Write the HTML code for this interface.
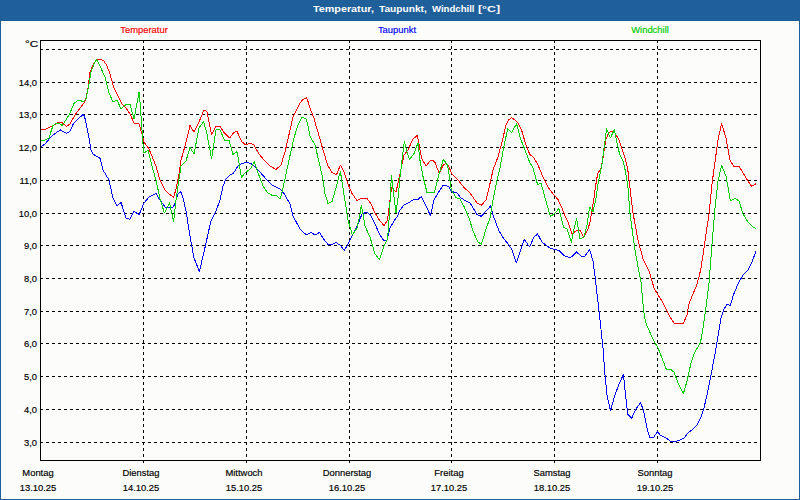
<!DOCTYPE html>
<html><head><meta charset="utf-8"><title>Temperatur, Taupunkt, Windchill</title>
<style>
html,body{margin:0;padding:0;}
body{width:800px;height:500px;overflow:hidden;background:#fcfdfb;font-family:"Liberation Sans",sans-serif;position:relative;}
#frame{position:absolute;left:0;top:0;width:798px;height:499px;border:1px solid #1f609a;border-top:none;background:#fcfdfb;}
#title{position:absolute;left:0;top:0;width:800px;height:21px;background:#1f609a;color:#fff;font-weight:bold;font-size:9.6px;line-height:18px;text-align:center;white-space:nowrap;}
.w{position:absolute;top:0;transform-origin:0 50%;}
.t{position:absolute;font-size:9.8px;line-height:12px;white-space:nowrap;color:#000;-webkit-text-stroke:0.18px currentColor;}
.c{transform:translateX(-50%) scaleX(.96);}
.r{text-align:right;transform-origin:100% 50%;transform:scaleX(.96);}
svg{position:absolute;left:0;top:0;}
</style></head><body>
<div id="frame"></div>
<div id="title"><span class="w" style="left:312.6px;transform:scaleX(1.123)">Temperatur,</span><span class="w" style="left:379px;transform:scaleX(1.06)">Taupunkt,</span><span class="w" style="left:431.6px;transform:scaleX(0.998)">Windchill</span><span class="w" style="left:478.4px;transform:scaleX(1.29)">[°C]</span></div>
<svg width="800" height="500" viewBox="0 0 800 500">

<g stroke="#000" stroke-width="1" fill="none" shape-rendering="crispEdges" stroke-dasharray="3 3">
<line x1="40" y1="442.5" x2="760" y2="442.5"/>
<line x1="40" y1="409.5" x2="760" y2="409.5"/>
<line x1="40" y1="376.5" x2="760" y2="376.5"/>
<line x1="40" y1="343.5" x2="760" y2="343.5"/>
<line x1="40" y1="311.5" x2="760" y2="311.5"/>
<line x1="40" y1="278.5" x2="760" y2="278.5"/>
<line x1="40" y1="245.5" x2="760" y2="245.5"/>
<line x1="40" y1="213.5" x2="760" y2="213.5"/>
<line x1="40" y1="180.5" x2="760" y2="180.5"/>
<line x1="40" y1="147.5" x2="760" y2="147.5"/>
<line x1="40" y1="114.5" x2="760" y2="114.5"/>
<line x1="40" y1="82.5" x2="760" y2="82.5"/>
<line x1="40" y1="49.5" x2="760" y2="49.5"/>
<line x1="143.5" y1="40" x2="143.5" y2="463"/>
<line x1="246.5" y1="40" x2="246.5" y2="463"/>
<line x1="349.5" y1="40" x2="349.5" y2="463"/>
<line x1="451.5" y1="40" x2="451.5" y2="463"/>
<line x1="554.5" y1="40" x2="554.5" y2="463"/>
<line x1="657.5" y1="40" x2="657.5" y2="463"/>
</g>
<rect x="40.5" y="40.5" width="720" height="420" fill="none" stroke="#000" stroke-width="1" shape-rendering="crispEdges"/>
<g fill="none" stroke-width="1" stroke-linejoin="round" shape-rendering="crispEdges">
<polyline stroke="#ff0000" points="41,129.5 45,129.5 53,125.5 59,122.2 61.5,122.2 66.5,126.5 70,124 75,115 84,103 86,98 88,88 90,72 94,63 97,59.6 100,59 104,61 107,66 110,74 114,88 118,96 122,104 126,108 130,114 134,123 139,124 142,134 144,142 149,149 156,166 160,180 165,190 169,194 173.6,197.4 176,189 179,174 181,160 185,146 190,125.6 194,132 199,122 204,110 207,111.6 211.6,135 216,126.4 220,126.4 224,132.4 229.6,138 234,132.4 237,131.4 242,142 246,145 250,143 254,145 259,154 264,160 270,166 276,169.4 281,165 285,152 290.5,128 293,117 295.5,112 300,103 303,99.5 305,98.8 306.5,97.2 308,101.5 311,111 314,118 316,126 318,132 323,150 328,166 332,172.4 336.4,175 340.4,165 344,172 348,184 352,193.5 357,200.5 362,198.2 367,198.5 371,204 375,213 380,221 384,225.6 387.6,220 389,208 391.6,187 396,192 400,174 404,155 408,150 413,139 417.4,135.4 420,150 422,159 426,166 430.4,160.4 432.8,160.2 434.8,162 439.2,173.2 443.6,164.4 446.8,163.6 448.8,166.4 451.6,173.6 458,180 464,187.5 470,193 477,203 481.4,205.4 486,200 489,188 493,170 498,157 502,142 506,125 509,119.6 511.6,117.6 515,120 518,123 521.6,130 525,142 529.6,154 534,158 538,165 543,177 548,187 553,193.8 558,199.5 562,208 565,216 568,222 572,233.6 576,231 580,230.4 584,237.4 588,229 590,222 592,210 594,198 595.6,186 597.6,174 601,168 603,158 604.4,148 606,139 609,132.5 611.8,131.3 615,133 619,140 622,149 625,158 627.6,168 629,180 633,213 638,240 643,259 649,271 651.6,279.5 654,288 658,295 662,301 666,309 670,317 674.4,323.4 679,323.4 683,324 687,315 689,304 692,296 696,287 699,277 701,268 704,248 709,214 712,184 715,162 718,140 721.6,123.6 726,138 730,160 734,167 739,166 743,173 748,181 751.6,186.2 756,183.8"/>
<polyline stroke="#0000ff" points="41,147 45,144 50,138 55,133.5 60.5,130 66.5,133.5 70,131.2 73.5,123.5 79,118 83,114.7 84.5,116 87,128 89.6,141 91,150 93,154 100,158.4 103,170 109,180 113,198 117,206 121,202.4 126,218 130,219.4 134,211 139,215 144,203 149,197 156,193.6 160,200 165,207 172,208 174.4,205 178,194 181,191.6 183,198 186,211 190,236 194,258 199.4,271.6 204,252 208,234 211,221 216,211 220,200 223,186 226,179 230,175 233.6,173 238,166 242,163.4 247,162.4 251,163.6 256,168 260,172 266,179 272,185 280,189 284,193.5 290,204 293,216 300,229 306.4,235 311,232.4 315,235 319.4,232.4 324,239.5 328.4,245 332,244.5 336,242.6 340,245 344.4,250.4 348,244 353,234 358,224 362,214 367,212 371,215.6 375,224 380,235 384,241 387,240 390,228 394,221 397,217 400,210 404,205 409,202.4 414,199.4 418,199.6 421.4,196.4 426,206 430.4,215.6 434,200 438,193 440,190 443.2,185.2 445.6,185.2 448.8,186.8 450.4,190 452,191.6 457,193 461,198 466,201 470,203 477,214.4 481.4,216.4 486,211 490.6,206 493,215 499,231 504,239 509,245 512,250 516.4,263 520,252 524.4,239.4 529.6,247 534,237 537.6,234 542,242 547,246 551,248.6 555,249.4 559,250.4 564,255.6 568,257 571.4,257 576.6,252 581,256 585,256 589.6,249.6 593,261 595,276 600,320 603,348 605,375 607,395 610.4,410.6 615,395 619,384 623.4,374.6 625.6,395 627.6,414 631.6,418.4 636,409 640.6,402.4 643.6,411 647,428 649.6,437.4 653.6,437.4 657.6,431.6 660,435 666,438 671,441.6 676,441.4 680,440 684,438 688,433 693,429 697,425 701,417 704,408 707,395 711,375 715,354 718,336 721,318 724,309 727,304.4 730.4,305.6 733,296 738,284 743,275 748,270 752,262 756,251"/>
<polyline stroke="#00cc00" points="41,140.5 44.5,140.5 49,138 51.5,130 53,125.5 56.5,123.2 59,123.2 62,125.5 66,120 70,113 74,103.5 78,100.5 80,100 83,102 86,99 89,84 91,72 94,64 96.6,59.4 100,66 105,77 109,93 113,102 117,100 121,109 126,104.4 130,104.4 134,119 139,92.4 140,102 143,144 144,153 148,150.4 152,166 156,180 160,199 164.4,213 169.6,203 173.6,222 176,200 181,166 186,161 190,147.3 194,154 199,128 203.6,121.6 207,134 211.6,159 216,129.6 220,130 225,141 229,140 233,154.4 237,151.6 241.5,177.5 245.6,172.2 250,169.4 254.4,161.9 258.8,175 263.1,186.2 267.5,192.5 271.9,195.2 276.2,195.2 280.3,199 283.1,187.5 289,160 294,138 297.5,126 300,121 302,117.2 304,118 306.5,119.5 308.5,128 310,136 315,145 320,166 323,180 325,194 328,203.5 332,201.6 336,188 338,180 340.4,171.6 343,188 344.4,197 348,220 352.4,235 357,228 360,214 361.4,205 365,226 370,237 375,254 379.4,259.4 384,246 387.6,239 389,220 390.4,195 391.4,175.3 394.4,200 396,213 398,198 400,177.5 402.5,155.6 404.4,141.4 406.3,149.5 409.5,159.5 414,153.5 418,142.8 420,160.5 423,176.5 427,192.4 431,192 434.4,193 437.6,179.6 440,170.8 443.4,159.2 447.6,165.2 449.2,175.6 451.2,189.2 452,191 456,197.6 460,199 464,206.5 469,218 473,231 478,242 481.4,244.4 486,229 490,218 493,200 497,180 500,168 504,146 507.6,129 511.6,132.4 516.6,124 520.6,139 525,150 529.6,162 533,168 537.6,184.7 541,183 544,194 547,205 550.4,216.4 554,214 559,208.6 563.6,227 567,229 571.4,242.4 574,229 576.6,218.4 580,239 584,237 587,225 589.6,207 593,212 596,198 598,184 602.2,163 604.3,146 606.6,128.8 610.4,138 614.4,129.6 617,143 619.6,154 623,161 625.6,172 628,188 630,214 635,250 638.6,270 641,282 643,304 644.4,317 647,326 653,339 658,348 662,358 666.4,369.5 670,369 674,372 678,383 683.4,393.6 687,381 691,363 694,354 696,350 700.4,343 703,328 706,307 709,283 712,244 715,208 718,181 721.6,165.6 726,176 729,193 730.4,201 735,198.2 739,201 743,214 748,222 753,227 756,228.6"/>
</g></svg>
<div class="t c" style="left:144.2px;top:24.1px;color:#ff0000">Temperatur</div>
<div class="t c" style="left:396.7px;top:24.1px;color:#0000ff">Taupunkt</div>
<div class="t c" style="left:649.5px;top:24.1px;color:#00cc00">Windchill</div>
<div class="t r" style="left:0;width:38.2px;top:38.1px;transform:scaleX(1.2)">°C</div>
<div class="t r" style="left:0;width:37px;top:437.1px">3,0</div>
<div class="t r" style="left:0;width:37px;top:404.1px">4,0</div>
<div class="t r" style="left:0;width:37px;top:371.1px">5,0</div>
<div class="t r" style="left:0;width:37px;top:338.1px">6,0</div>
<div class="t r" style="left:0;width:37px;top:306.1px">7,0</div>
<div class="t r" style="left:0;width:37px;top:273.1px">8,0</div>
<div class="t r" style="left:0;width:37px;top:240.1px">9,0</div>
<div class="t r" style="left:0;width:37px;top:208.1px">10,0</div>
<div class="t r" style="left:0;width:37px;top:175.1px">11,0</div>
<div class="t r" style="left:0;width:37px;top:142.1px">12,0</div>
<div class="t r" style="left:0;width:37px;top:109.1px">13,0</div>
<div class="t r" style="left:0;width:37px;top:77.1px">14,0</div>
<div class="t c" style="left:37.5px;top:467.4px">Montag</div>
<div class="t c" style="left:37.5px;top:482.4px">13.10.25</div>
<div class="t c" style="left:140.5px;top:467.4px">Dienstag</div>
<div class="t c" style="left:140.5px;top:482.4px">14.10.25</div>
<div class="t c" style="left:243.5px;top:467.4px">Mittwoch</div>
<div class="t c" style="left:243.5px;top:482.4px">15.10.25</div>
<div class="t c" style="left:346.5px;top:467.4px">Donnerstag</div>
<div class="t c" style="left:346.5px;top:482.4px">16.10.25</div>
<div class="t c" style="left:448.5px;top:467.4px">Freitag</div>
<div class="t c" style="left:448.5px;top:482.4px">17.10.25</div>
<div class="t c" style="left:551.5px;top:467.4px">Samstag</div>
<div class="t c" style="left:551.5px;top:482.4px">18.10.25</div>
<div class="t c" style="left:654.5px;top:467.4px">Sonntag</div>
<div class="t c" style="left:654.5px;top:482.4px">19.10.25</div>
</body></html>
